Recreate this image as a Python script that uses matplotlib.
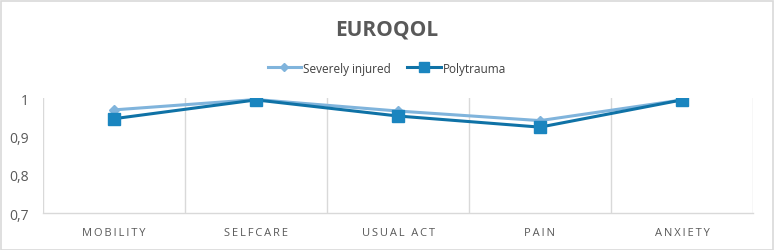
import matplotlib
matplotlib.use("Agg")
import matplotlib.pyplot as plt
from matplotlib.patches import Rectangle
from matplotlib import font_manager

categories = ["MOBILITY", "SELFCARE", "USUAL ACT", "PAIN", "ANXIETY"]
severely_injured = [0.969, 0.996, 0.966, 0.941, 0.995]
polytrauma = [0.946, 0.995, 0.953, 0.924, 0.995]
y_ticks = [0.7, 0.8, 0.9, 1.0]
y_tick_labels = ["0,7", "0,8", "0,9", "1"]

plt.rcParams['font.family'] = ['Open Sans', 'DejaVu Sans']
names = {f.name for f in font_manager.fontManager.ttflist}
legend_family = ['Liberation Sans Narrow', 'Open Sans'] if 'Liberation Sans Narrow' in names else ['Open Sans']

W, H = 774, 251
fig = plt.figure(figsize=(W / 100, H / 100), dpi=100)
fig.patches.append(Rectangle((0.5 / W, 0.5 / H), 1 - 2 / W, 1 - 2 / H, transform=fig.transFigure,
                             fill=False, edgecolor="#d9d9d9", linewidth=1.2))

ax = fig.add_axes([43 / W, 1 - 214 / H, (753 - 43) / W, (214 - 99) / H])
x = list(range(len(categories)))
ax.plot(x, severely_injured, color="#80b4dc", linewidth=2.2, marker="D", markersize=5,
        markerfacecolor="#80b4dc", markeredgecolor="#80b4dc", label="Severely injured", zorder=3)
ax.plot(x, polytrauma, color="#0f72a6", linewidth=2.2, marker="s", markersize=9,
        markerfacecolor="#1a85bf", markeredgecolor="#1a85bf", label="Polytrauma", zorder=4)

ax.set_xlim(-0.5, len(categories) - 0.5)
ax.set_ylim(0.7, 1.0)
ax.set_yticks(y_ticks)
ax.set_yticklabels(y_tick_labels, fontsize=10, color="#595959")
ax.set_xticks(x)
ax.set_xticklabels(["\u2009".join(c) for c in categories], fontsize=8, color="#595959")
ax.tick_params(axis="both", length=0)
ax.tick_params(axis="x", pad=10)
ax.tick_params(axis="y", pad=10)

for b in [i + 0.5 for i in range(len(categories) - 1)] + [-0.5, len(categories) - 0.5]:
    ax.axvline(b, color="#d9d9d9", linewidth=1, zorder=1)
for s in ["top", "right", "left"]:
    ax.spines[s].set_visible(False)
ax.spines["bottom"].set_color("#d9d9d9")
ax.spines["bottom"].set_linewidth(1)

fig.text(0.5, 1 - 30 / H, "EUROQOL", ha="center", va="center", fontsize=15, fontweight="bold",
         color="#595959")
fig.legend(loc="center", bbox_to_anchor=(0.5, 1 - 69 / H), ncol=2, frameon=False,
           prop={'family': legend_family, 'size': 8.5}, markerscale=0.8,
           handlelength=2.8, columnspacing=1.4, handletextpad=0.2, labelcolor="#404040")

fig.savefig("out.png", dpi=100)
